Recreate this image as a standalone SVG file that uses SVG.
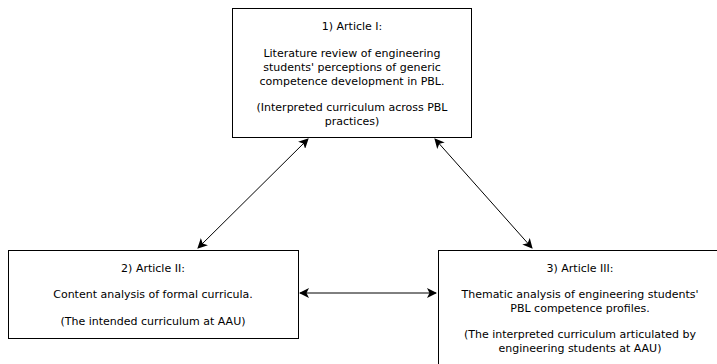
<svg xmlns="http://www.w3.org/2000/svg" width="717" height="364" viewBox="0 0 717 364">
<defs>
<marker id="ah" viewBox="0 0 10 10" refX="9" refY="5" markerWidth="10" markerHeight="10" markerUnits="userSpaceOnUse" orient="auto-start-reverse">
<path d="M0,0 L10,5 L0,10 L2.5,5 Z" fill="#000"/>
</marker>
</defs>
<style>
.box{fill:#fff;stroke:#000;stroke-width:1}
.t{font-family:"DejaVu Sans",Verdana,sans-serif;font-size:11px;fill:#000;text-anchor:middle}
.c{stroke:#000;stroke-width:1;fill:none;marker-start:url(#ah);marker-end:url(#ah)}
</style>
<rect width="717" height="364" fill="#fff"/>
<g id="node1">
<rect class="box" x="232.5" y="8.5" width="239" height="129"/>
<text class="t" x="352" y="30">1) Article I:</text>
<text class="t" x="352" y="57">Literature review of engineering</text>
<text class="t" x="352" y="71">students' perceptions of generic</text>
<text class="t" x="352" y="85">competence development in PBL.</text>
<text class="t" x="352" y="111">(Interpreted curriculum across PBL</text>
<text class="t" x="352" y="125">practices)</text>
</g>
<g id="node2">
<rect class="box" x="8.5" y="250.5" width="290" height="88"/>
<text class="t" x="153" y="272">2) Article II:</text>
<text class="t" x="153" y="298">Content analysis of formal curricula.</text>
<text class="t" x="153" y="325">(The intended curriculum at AAU)</text>
</g>
<g id="node3">
<rect class="box" x="438.5" y="250.5" width="290" height="130"/>
<text class="t" x="580" y="272">3) Article III:</text>
<text class="t" x="580" y="298">Thematic analysis of engineering students'</text>
<text class="t" x="580" y="312">PBL competence profiles.</text>
<text class="t" x="580" y="338">(The interpreted curriculum articulated by</text>
<text class="t" x="580" y="352">engineering students at AAU)</text>
</g>
<g id="connectors">
<line class="c" x1="308" y1="139" x2="198" y2="248"/>
<line class="c" x1="435" y1="139" x2="532" y2="248"/>
<line class="c" x1="300" y1="293" x2="436" y2="293"/>
</g>
</svg>
